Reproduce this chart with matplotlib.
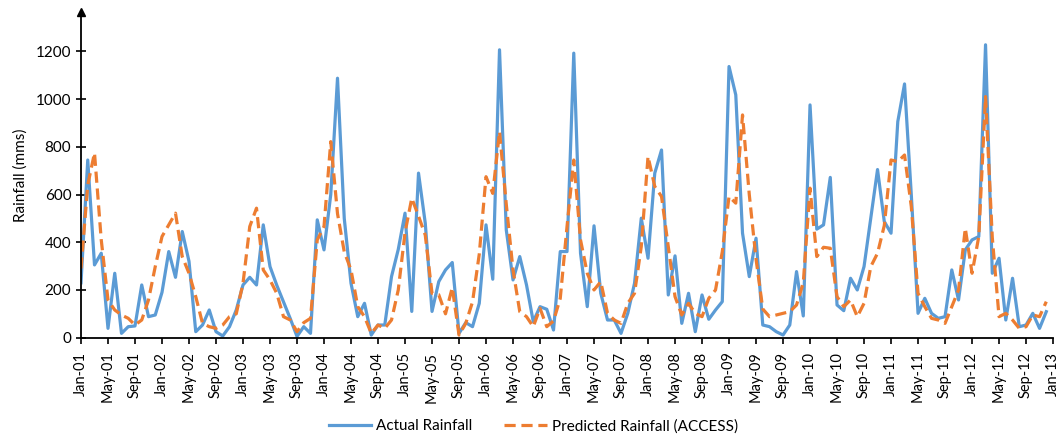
import matplotlib

matplotlib.use('Agg')

from matplotlib import pyplot as plt
import numpy as np

# monthly rainfall, Jan-01 .. Dec-12
actual = [230, 745, 305, 354, 39, 270, 18, 46, 49, 221, 88, 95,
          190, 361, 253, 445, 320, 25, 53, 116, 25, 7, 46, 116,
          221, 253, 221, 473, 298, 220, 150, 80, 5, 46, 18, 494,
          368, 600, 1088, 500, 228, 88, 144, 11, 53, 53, 256, 370,
          522, 110, 690, 480, 110, 235, 284, 315, 18, 63, 46, 144,
          473, 245, 1207, 452, 242, 340, 221, 67, 130, 119, 32, 361,
          361, 1193, 354, 130, 469, 186, 74, 74, 18, 102, 228, 501,
          333, 690, 787, 179, 343, 60, 186, 25, 179, 77, 116, 151,
          1137, 1018, 438, 256, 417, 53, 46, 25, 11, 53, 277, 91,
          976, 455, 473, 672, 137, 113, 249, 200, 298, 501, 705, 487,
          438, 906, 1064, 600, 102, 165, 102, 81, 88, 284, 158, 368,
          410, 424, 1228, 270, 333, 74, 249, 46, 53, 102, 39, 109]
predicted = [290, 640, 775, 410, 158, 116, 95, 81, 53, 74, 158, 298,
             424, 473, 522, 340, 270, 172, 60, 46, 39, 53, 88, 100,
             228, 466, 543, 284, 242, 186, 88, 74, 25, 63, 81, 410,
             466, 822, 520, 360, 284, 130, 88, 18, 53, 39, 74, 200,
             440, 585, 510, 430, 186, 180, 100, 210, 11, 60, 150, 350,
             675, 605, 864, 560, 284, 109, 88, 46, 123, 46, 70, 165,
             466, 745, 410, 270, 200, 235, 102, 74, 60, 144, 186, 382,
             760, 634, 592, 382, 172, 95, 144, 102, 88, 165, 200, 360,
             592, 564, 934, 600, 330, 120, 88, 95, 102, 109, 137, 230,
             627, 340, 379, 375, 172, 130, 158, 88, 144, 298, 354, 470,
             745, 738, 766, 550, 186, 130, 81, 74, 60, 130, 200, 459,
             270, 424, 1011, 420, 88, 102, 74, 39, 46, 95, 88, 151]

tick_months = ['Jan', 'May', 'Sep']
tick_labels = ['%s-%02d' % (m, y) for y in range(1, 13) for m in tick_months] + ['Jan-13']

plt.rcParams['font.family'] = ['Lato', 'DejaVu Sans']

def main():
  fig = plt.figure(figsize=(10.56, 4.34), dpi=100)
  ax = fig.add_axes([0.0767, 0.222, 0.9205, 0.75])
  x = np.arange(len(actual))
  l1, = ax.plot(x, actual, color='#5B9BD5', lw=2.3, label='Actual Rainfall')
  l2, = ax.plot(x, predicted, color='#ED7D31', lw=2.3, dashes=(3.5, 1.8),
                label='Predicted Rainfall (ACCESS)')

  ax.set_xlim(0, 144)
  ax.set_ylim(0, 1365)
  ax.set_xticks(np.arange(0, 145, 4))
  ax.set_xticklabels(tick_labels, rotation=90, fontsize=10.5)
  ax.set_yticks(np.arange(0, 1201, 200))
  ax.tick_params(axis='y', direction='inout', length=7, width=1.2, labelsize=11)
  ax.tick_params(axis='x', direction='out', length=4, width=1.2, pad=6)
  for s in ['top', 'right']:
    ax.spines[s].set_visible(False)
  for s in ['left', 'bottom']:
    ax.spines[s].set_linewidth(1.3)
  ax.plot(0, 1, '^k', transform=ax.transAxes, clip_on=False, markersize=6)
  ax.set_ylabel('Rainfall (mms)', fontsize=11, labelpad=6)

  fig.legend(handles=[l1, l2], loc='center', bbox_to_anchor=(0.505, 0.018),
             ncol=2, frameon=False, fontsize=11, handlelength=2.8,
             handletextpad=0.3, columnspacing=2.1)
  fig.savefig('out.png', dpi=100)

if __name__ == '__main__':
  main()
